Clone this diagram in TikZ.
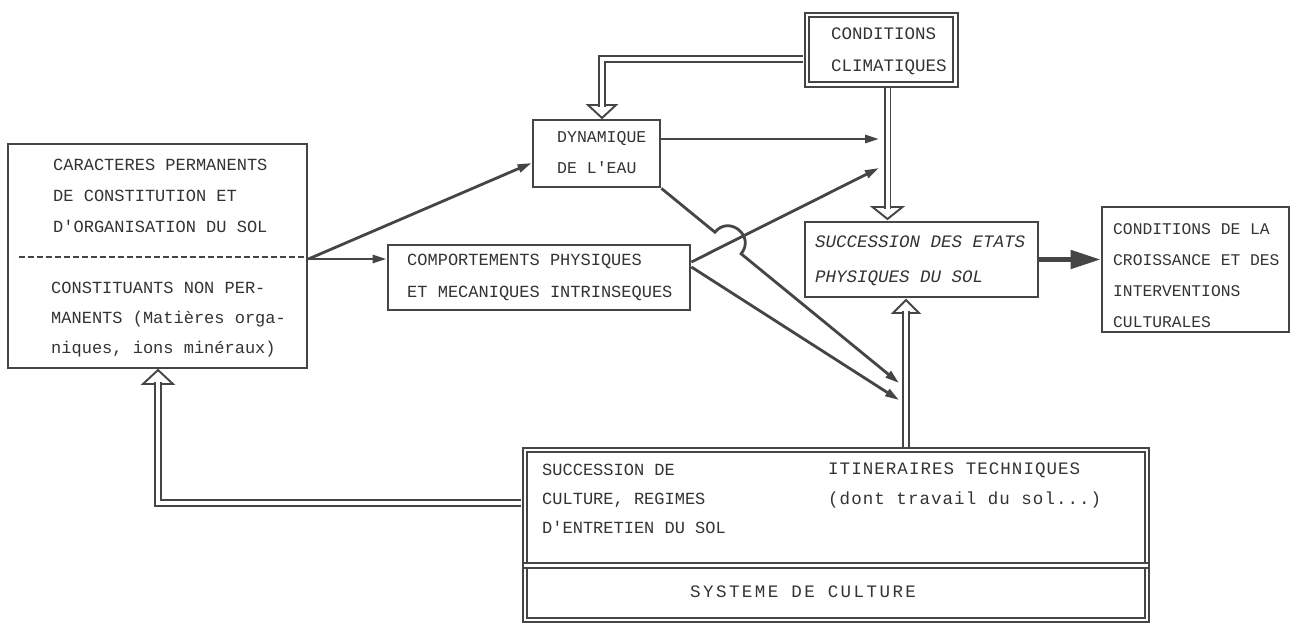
\documentclass[tikz,border=0pt]{standalone}
\usepackage{fontspec}
\newfontfamily\tw{Liberation Mono}
\newfontfamily\twa{Liberation Mono}[LetterSpace=6]
\newfontfamily\twb{Liberation Mono}[LetterSpace=14]
\usetikzlibrary{arrows.meta,calc}
\definecolor{ink}{rgb}{0.27,0.27,0.27}
\definecolor{tink}{rgb}{0.2,0.2,0.2}
\begin{document}
\begin{tikzpicture}[x=1pt,y=-1pt,
  frame/.style={draw=ink, line width=2.8pt, inner sep=0pt},
  dframe/.style={draw=ink, line width=1.9pt, double=white, double distance=2.4pt, inner sep=0pt},
  dline/.style={draw=ink, line width=1.9pt, double=white, double distance=2.4pt},
  txt/.style={text=tink, align=left, inner sep=0pt, anchor=west},
  arr/.style={draw=ink, line width=2.8pt, -{Triangle[length=14pt,width=8pt]}},
  pipe/.style={draw=ink, line width=1.9pt, double=white, double distance=4pt},
  hhead/.style={draw=ink, line width=1.9pt, fill=white, line join=miter}]
\useasboundingbox (0,0) rectangle (1293,626);
\fill[white] (0,0) rectangle (1293,626);

% boxes
\node[frame, minimum width=299pt, minimum height=224pt] (lbox) at (157.5,256) {};
\node[frame, minimum width=302pt, minimum height=65pt] (comp) at (539,277.5) {};
\node[frame, minimum width=127pt, minimum height=67pt] (dyn) at (596.5,153.5) {};
\node[dframe, minimum width=148.5pt, minimum height=69.5pt] (cc) at (881.25,49.75) {};
\node[frame, minimum width=233pt, minimum height=75pt] (se) at (921.5,259.5) {};
\node[frame, minimum width=187pt, minimum height=125pt] (cg) at (1195.5,269.5) {};
\node[dframe, minimum width=622pt, minimum height=170pt] (sc) at (836,535) {};
\draw[dline] (sc.west |- 0,565.5) -- (sc.east |- 0,565.5);
\draw[ink, line width=2pt, dash pattern=on 6pt off 3pt] ($(lbox.west |- 0,257)+(12,0)$) -- (lbox.east |- 0,257);

% texts
\node[txt, font=\tw\fontsize{17}{31}\selectfont] (t1) at (53,196) {CARACTERES PERMANENTS\\DE CONSTITUTION ET\\D'ORGANISATION DU SOL};
\node[txt, font=\tw\fontsize{17}{30}\selectfont] (t2) at (51,320) {CONSTITUANTS NON PER-\\MANENTS (Matières orga-\\niques, ions minéraux)};
\node[txt, font=\tw\fontsize{16.5}{31}\selectfont] (t3) at (557,152.5) {DYNAMIQUE\\DE L'EAU};
\node[txt, font=\tw\fontsize{17}{32}\selectfont] (t4) at (407,277) {COMPORTEMENTS PHYSIQUES\\ET MECANIQUES INTRINSEQUES};
\node[txt, font=\tw\fontsize{17.5}{32}\selectfont] (t5) at (831,51) {CONDITIONS\\CLIMATIQUES};
\node[txt, font=\tw\itshape\fontsize{17.5}{35}\selectfont] (t6) at (815,260.5) {SUCCESSION DES ETATS\\PHYSIQUES DU SOL};
\node[txt, font=\tw\fontsize{16.3}{31}\selectfont] (t7) at (1113,275.5) {CONDITIONS DE LA\\CROISSANCE ET DES\\INTERVENTIONS\\CULTURALES};
\node[txt, font=\tw\fontsize{17}{29}\selectfont] (t8) at (542,499) {SUCCESSION DE\\CULTURE, REGIMES\\D'ENTRETIEN DU SOL};
\node[txt, font=\twa\fontsize{17.5}{30}\selectfont] (t9) at (828,485) {ITINERAIRES TECHNIQUES\\(dont travail du sol...)};
\node[txt, font=\twb\fontsize{17.5}{30}\selectfont] (t10) at (690,592) {SYSTEME DE CULTURE};

% hollow arrows (heads first, then pipes)
\coordinate (h1) at (602,118);
\draw[hhead] (h1) -- ++(-14,-13) -- ++(28,0) -- cycle;
\draw[pipe] ($(cc.west |- 0,59)+(-3,0)$) -| ($(h1)+(0,-11)$);

\coordinate (h2) at (887.5,219);
\draw[hhead] (h2) -- ++(-15,-12) -- ++(30,0) -- cycle;
\draw[pipe] (887.5,87.5) -- ($(h2)+(0,-10)$);

\coordinate (h3) at (906,300);
\draw[hhead] (h3) -- ++(-13,13) -- ++(26,0) -- cycle;
\draw[pipe] ($(sc.north |- 0,447)+(70,0)$) -- ($(h3)+(0,11)$);

\coordinate (h4) at (158,370);
\draw[hhead] (h4) -- ++(-15,14) -- ++(30,0) -- cycle;
\draw[pipe] ($(sc.west |- 0,503)+(-3,0)$) -| ($(h4)+(0,12)$);

% single arrows
\coordinate (k1) at (879,139);
\coordinate (k2) at (879,168);
\coordinate (k3) at (899,400);
\coordinate (k4) at (899,383);
\coordinate (bA) at (714.9,232.2);
\coordinate (bB) at (741.1,253.8);
\coordinate (bc1) at (729.3,214.7);
\coordinate (bc2) at (755.5,236.3);
\draw[arr] (lbox.east |- 0,259) -- (comp.west |- 0,259);
\draw[arr] (lbox.east |- 0,259) -- (dyn.west |- 0,163);
\draw[arr] (dyn.east |- 0,139) -- (k1);
\draw[arr] (comp.east |- 0,262) -- (k2);
\draw[arr] (comp.east |- 0,267) -- (k3);
\draw[arr] (dyn.south east) -- (bA) .. controls (bc1) and (bc2) .. (bB) -- (k4);
\draw[draw=ink, line width=5pt, -{Triangle[length=30pt,width=18pt]}] (se.east) -- (cg.west |- se.east);
\end{tikzpicture}
\end{document}
